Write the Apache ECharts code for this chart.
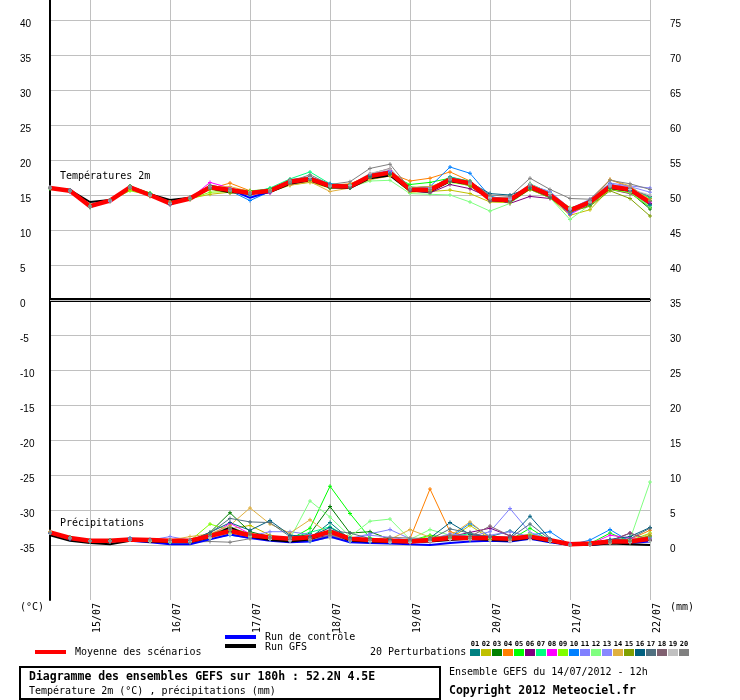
<!DOCTYPE html>
<html>
<head>
<meta charset="utf-8">
<title>Diagramme des ensembles GEFS</title>
<script src="https://cdn.jsdelivr.net/npm/echarts@6/dist/echarts.min.js"></script>
<style>
html, body { margin: 0; padding: 0; background: #fff; }
#main { width: 740px; height: 700px; }
</style>
</head>
<body>
<div id="main"></div>
<script>
// run du 14/07/2012 12h, pas de 6h jusqu'a 180h
var times = ['14/07 12h','14/07 18h','15/07 00h','15/07 06h','15/07 12h','15/07 18h','16/07 00h','16/07 06h',
  '16/07 12h','16/07 18h','17/07 00h','17/07 06h','17/07 12h','17/07 18h','18/07 00h','18/07 06h',
  '18/07 12h','18/07 18h','19/07 00h','19/07 06h','19/07 12h','19/07 18h','20/07 00h','20/07 06h',
  '20/07 12h','20/07 18h','21/07 00h','21/07 06h','21/07 12h','21/07 18h','22/07 00h'];

var leftTicks = [-35, 40];   // echelle gauche (°C)
var rightTicks = [0, 75];    // echelle droite

// temperatures 2m (°C)
var tempMean = [16.0,15.6,13.4,14.2,16.1,15.0,13.8,14.5,16.1,15.7,15.3,15.6,16.9,17.3,16.3,16.2,17.7,18.2,15.8,15.7,17.2,16.7,14.4,14.3,16.2,15.0,12.8,14.0,16.2,15.8,13.9];
var tempControl = [16.0,15.6,13.4,14.2,16.1,15.0,13.9,14.6,16.2,15.8,14.6,15.5,16.9,17.3,16.3,16.1,17.6,18.0,15.9,15.7,17.0,16.6,14.4,14.2,16.3,15.1,12.9,14.0,16.1,15.8,14.0];
var tempGfs = [16.0,15.7,14.0,14.3,16.0,15.1,14.3,14.6,16.0,15.4,15.4,15.4,16.6,17.1,16.1,16.0,17.4,17.8,15.6,15.5,17.0,16.6,14.3,14.1,16.0,14.9,13.0,13.9,16.0,15.6,13.9];
var tempPerts = [
  [16.1,15.5,13.3,14.3,16.2,14.9,13.9,14.6,16.3,15.5,15.0,15.8,17.1,17.5,16.5,16.3,17.9,18.4,16.1,15.9,17.6,16.9,14.8,14.1,16.6,15.3,12.5,14.2,16.6,15.5,13.2],
  [16.0,15.6,13.5,14.1,15.8,15.1,14.0,14.5,15.1,15.4,15.5,15.4,16.4,16.8,16.0,16.1,17.3,17.8,15.4,15.5,15.7,15.2,14.0,13.9,15.8,14.6,12.1,12.9,15.9,15.6,13.6],
  [16.0,15.6,13.3,14.2,16.3,15.2,13.7,14.6,16.4,15.9,15.4,15.9,17.0,17.4,16.0,16.1,17.5,18.0,16.0,16.2,16.9,16.5,14.2,14.0,15.9,14.8,12.6,13.5,15.9,15.4,13.0],
  [16.1,15.5,13.5,14.2,16.0,14.8,13.8,14.4,15.9,16.7,15.6,15.5,16.8,17.2,16.4,16.6,17.8,18.1,17.0,17.4,18.3,17.0,14.6,14.5,16.4,15.2,13.0,14.3,17.2,16.1,14.5],
  [15.9,15.6,13.2,14.1,16.2,15.3,13.9,14.5,16.2,15.9,15.6,15.8,16.7,17.0,16.4,16.5,17.6,17.9,16.5,16.8,17.4,16.3,14.3,14.2,16.6,15.1,12.9,14.1,16.5,15.9,14.2],
  [16.0,15.7,13.4,14.3,16.0,15.0,13.6,14.4,16.0,15.6,15.2,15.4,16.6,17.1,16.2,16.0,17.4,18.3,15.6,15.3,16.5,15.9,14.6,13.8,14.8,14.5,12.9,14.2,15.8,15.2,13.8],
  [16.0,15.6,13.4,14.2,16.2,15.1,13.8,14.6,16.2,15.8,15.3,16.0,17.3,18.3,16.6,16.4,17.9,18.5,16.2,15.8,17.5,17.0,14.7,14.4,16.5,15.4,12.4,14.0,16.4,16.0,14.6],
  [16.0,15.5,13.3,14.1,16.1,14.9,13.8,14.5,16.8,16.0,15.2,15.3,16.8,17.2,16.4,16.2,17.9,18.5,15.8,15.6,17.3,16.8,14.2,14.5,16.3,14.9,12.2,13.8,16.4,16.0,14.0],
  [16.0,15.6,13.5,14.2,15.6,15.0,13.9,14.4,15.4,15.5,15.4,15.6,16.7,17.0,16.1,16.1,17.2,17.9,15.9,15.6,16.8,16.4,14.5,14.6,16.0,15.2,13.2,13.6,15.8,15.3,13.3],
  [16.0,15.7,13.4,14.2,16.0,15.0,13.7,14.6,16.1,15.6,14.2,15.5,16.9,17.6,16.6,16.3,17.9,18.4,16.0,16.2,19.0,18.1,14.8,14.3,16.4,14.8,12.3,14.1,16.3,15.6,13.5],
  [16.1,15.5,13.4,14.3,16.1,15.1,13.8,14.5,16.0,15.7,15.4,15.6,16.9,17.3,16.3,16.2,17.6,18.2,15.9,16.0,17.1,16.6,14.6,14.2,16.0,15.3,13.0,14.4,16.7,16.3,16.0],
  [16.0,15.6,13.4,14.2,16.0,15.0,13.8,14.5,16.0,15.6,15.4,15.7,16.8,17.0,16.2,16.1,17.0,17.1,15.2,15.1,15.0,14.0,12.7,13.8,15.9,14.6,11.5,13.6,16.0,15.4,13.4],
  [16.0,15.6,13.4,14.1,16.1,15.0,13.9,14.6,16.2,15.8,15.4,15.4,16.7,17.1,16.3,16.3,17.8,18.3,15.9,16.0,17.4,16.9,14.5,14.6,16.4,15.5,13.1,14.2,16.5,16.2,15.4],
  [16.0,15.6,13.3,14.3,16.2,15.0,13.8,14.6,16.1,16.2,15.5,15.7,16.4,16.9,15.5,16.0,17.2,17.7,16.1,16.2,17.2,16.5,14.7,13.9,16.2,15.0,12.7,13.9,17.2,16.3,14.3],
  [16.0,15.6,13.5,14.2,16.0,14.9,13.8,14.4,15.8,15.3,15.2,15.5,16.7,17.1,16.2,16.0,17.5,17.9,15.8,15.5,17.0,16.3,14.3,14.0,15.8,14.6,12.6,13.4,15.6,14.5,12.0],
  [16.0,15.6,13.4,14.2,16.1,15.1,13.8,14.5,16.0,15.6,15.3,15.6,16.9,17.4,16.1,16.0,17.6,18.0,15.7,15.9,16.9,16.8,15.2,15.0,16.0,14.7,12.8,13.7,16.0,15.7,13.6],
  [16.0,15.6,13.4,14.3,16.2,15.0,13.7,14.5,16.3,15.8,15.1,15.4,16.7,17.3,16.4,16.4,17.8,18.1,15.7,15.4,17.4,16.9,14.1,14.2,16.5,15.1,12.7,14.1,16.2,15.9,14.8],
  [16.0,15.7,13.3,14.2,16.0,15.0,13.8,14.6,16.0,15.7,15.3,15.6,17.2,17.6,16.3,16.2,18.0,18.8,15.6,15.4,17.0,16.6,14.3,14.0,16.3,14.8,12.5,14.2,16.1,15.5,14.1],
  [16.0,15.6,13.4,14.2,16.1,15.0,13.8,14.5,16.2,15.7,15.3,15.6,17.0,17.5,16.3,16.4,18.1,18.7,16.0,15.9,17.3,16.7,14.6,14.4,16.6,15.2,13.0,14.0,16.3,15.8,15.0],
  [16.0,15.6,13.4,14.3,16.1,15.1,13.9,14.5,16.3,15.8,15.3,15.6,16.9,17.9,16.5,16.9,18.8,19.4,15.9,15.8,17.3,16.9,15.0,14.8,17.4,15.8,14.5,14.4,17.1,16.6,15.8]
];

// precipitations (mm / 6h), echelle de droite
var precMean = [1.8,1.0,0.6,0.6,0.8,0.7,0.6,0.6,1.3,2.0,1.4,1.1,0.9,1.1,1.9,0.9,0.7,0.6,0.5,0.7,1.0,1.0,1.0,0.9,1.2,0.7,0.1,0.2,0.5,0.5,0.9];
var precControl = [1.7,0.9,0.5,0.5,0.6,0.4,0.1,0.1,0.8,1.5,1.0,0.6,0.4,0.5,1.2,0.4,0.3,0.2,0.1,0.0,0.3,0.5,0.6,0.5,0.9,0.4,0.0,0.0,0.3,0.3,0.5];
var precGfs = [1.4,0.6,0.3,0.1,0.6,0.5,0.4,0.4,1.1,2.5,1.2,0.7,0.5,0.8,2.0,0.6,0.5,0.4,0.4,0.5,0.7,0.9,0.7,0.6,1.0,0.5,0.0,0.0,0.2,0.1,0.0];
var precPerts = [
  [1.8,0.9,0.5,0.5,0.7,0.6,0.5,0.4,1.2,1.8,1.5,1.0,0.8,1.0,3.2,0.8,0.6,0.5,0.4,0.6,0.8,1.0,1.2,2.0,1.0,0.6,0.0,0.1,0.4,0.6,0.8],
  [1.7,1.0,0.6,0.6,0.8,0.6,0.5,0.5,1.6,2.3,2.8,1.4,0.6,0.8,1.2,0.6,0.5,0.6,0.7,0.5,0.9,2.8,0.9,0.7,1.6,0.8,0.0,0.1,0.3,0.4,1.4],
  [1.8,1.1,0.6,0.7,0.9,0.6,0.7,0.6,1.8,4.6,1.9,1.2,0.9,1.6,5.5,1.7,1.9,0.8,0.4,0.6,1.1,0.8,0.7,0.8,1.4,0.5,0.0,0.2,0.7,0.4,0.6],
  [1.9,1.0,0.5,0.6,0.8,0.7,0.6,0.7,1.1,1.7,1.6,1.0,0.7,0.8,1.3,0.6,0.5,0.6,0.9,8.0,1.9,1.1,0.8,0.6,1.2,0.7,0.0,0.3,0.6,0.8,2.1],
  [1.8,1.0,0.6,0.5,0.7,0.6,0.5,0.5,1.4,2.2,1.5,1.1,0.8,2.4,8.4,4.5,1.0,0.7,0.6,1.4,1.0,0.8,0.9,0.7,2.4,0.6,0.0,0.2,1.7,0.5,1.0],
  [1.7,0.9,0.6,0.6,0.7,0.8,0.6,0.5,1.2,1.9,1.3,1.0,0.6,0.9,1.4,0.8,0.7,0.5,0.6,0.5,1.2,1.8,2.4,1.3,1.0,0.7,0.1,0.2,0.6,1.7,0.7],
  [1.8,1.0,0.5,0.6,0.8,0.6,0.5,0.6,1.5,2.4,1.2,1.2,1.0,1.8,2.6,1.0,0.6,0.5,0.5,0.9,1.2,1.6,0.9,0.8,1.3,0.6,0.0,0.1,0.5,0.4,1.1],
  [1.8,1.0,0.6,0.5,0.7,0.6,0.6,0.6,1.3,3.1,1.6,1.1,0.8,1.0,1.6,0.7,0.6,0.5,0.4,0.6,0.9,1.0,1.1,0.7,1.1,0.8,0.1,0.1,1.4,1.0,0.9],
  [1.8,1.0,0.6,0.6,0.8,0.7,0.6,0.6,3.0,2.1,1.3,1.0,0.7,1.1,2.0,0.8,0.6,0.6,0.5,1.3,1.0,1.3,0.8,0.9,1.5,0.6,0.0,0.2,0.6,0.6,1.7],
  [1.7,0.9,0.5,0.6,1.0,0.6,0.4,0.4,0.9,1.4,1.0,0.8,0.6,0.5,1.1,0.5,0.4,0.3,0.4,0.6,1.1,3.1,1.2,0.8,1.4,1.9,0.0,0.7,2.2,0.5,0.8],
  [1.8,1.0,0.6,0.6,0.9,0.7,1.2,0.7,1.5,2.2,1.3,1.9,1.9,1.5,1.3,0.9,1.6,2.2,0.9,0.7,1.3,1.2,1.9,5.2,1.8,0.8,0.0,0.1,0.5,0.7,1.2],
  [1.8,1.0,0.6,0.6,0.8,0.5,0.4,0.4,1.0,1.6,1.2,1.0,0.9,6.3,4.0,1.2,3.4,3.7,0.8,2.2,1.4,1.0,0.9,1.0,1.6,0.7,0.0,0.2,0.6,0.8,9.0],
  [1.8,1.0,0.6,0.6,0.8,0.7,0.7,0.6,1.4,2.6,1.5,1.2,1.0,1.2,1.8,1.0,1.4,1.1,0.7,0.8,1.6,1.2,1.4,1.9,1.2,0.7,0.1,0.2,0.8,0.6,1.0],
  [1.9,1.0,0.6,0.6,0.8,0.7,0.7,1.2,1.6,2.8,5.3,3.0,1.7,3.6,1.5,0.8,0.7,0.8,2.2,1.1,1.3,3.3,1.0,0.8,1.4,0.6,0.0,0.2,0.6,0.5,1.6],
  [1.8,1.0,0.6,0.6,0.8,0.6,0.6,0.5,1.5,2.5,1.6,1.1,0.8,1.0,1.8,0.8,0.7,0.6,0.5,0.6,1.0,0.9,0.8,0.9,1.3,0.6,0.0,0.1,0.5,0.6,1.3],
  [1.8,1.0,0.6,0.6,0.7,0.7,0.6,0.6,1.8,3.2,2.1,3.5,1.4,1.2,2.5,1.0,0.8,0.8,0.7,1.0,3.2,1.5,1.2,1.1,4.1,0.9,0.0,0.2,0.8,1.2,2.5],
  [1.8,1.0,0.6,0.6,0.8,0.7,0.6,0.6,1.7,3.8,3.3,3.2,1.2,1.0,2.1,1.7,0.9,0.7,0.6,0.8,2.3,1.7,1.1,1.0,3.0,0.8,0.0,0.2,0.7,0.9,2.4],
  [1.8,1.0,0.6,0.6,0.8,0.7,0.6,0.5,1.3,2.3,1.5,1.0,0.8,1.1,1.6,0.8,0.6,0.6,0.6,0.9,1.4,1.2,2.7,1.3,1.1,0.7,0.0,0.1,0.5,1.7,0.7],
  [1.8,1.0,0.6,0.6,0.7,0.6,0.5,0.5,1.0,1.5,1.0,0.8,0.6,0.7,1.0,0.6,0.5,0.4,0.4,0.5,0.8,0.8,0.6,0.5,0.8,0.5,0.0,0.0,0.3,0.4,0.5],
  [1.8,1.0,0.6,0.6,0.8,0.7,0.6,0.4,0.5,0.4,0.9,1.0,1.0,0.6,1.4,0.7,0.8,1.1,1.0,0.9,1.2,1.0,1.3,0.9,1.2,0.6,0.0,0.1,0.4,0.5,0.8]
];

var pertNames = ['01','02','03','04','05','06','07','08','09','10','11','12','13','14','15','16','17','18','19','20'];
var pertColors = ['#008080','#c0c000','#008000','#ff8000','#00ff00','#800080','#00ff80','#ff00ff','#80ff00','#0080ff',
  '#8080ff','#80ff80','#8888ff','#e0b040','#80a000','#006080','#507080','#806070','#c0c0c0','#808080'];

var myChart = echarts.init(document.getElementById('main'));

var mono = 'DejaVu Sans Mono';
var cross = 'path://M1.5,0H2.5V4H1.5ZM0,1.5H4V2.5H0Z';
// 7 px par degre, 0°C au milieu du cadre de 600 px
var half = 300 / 7;

function isDay(idx, val) {
  return val.slice(6) === '00h';
}

function makeLine(name, data, color, width, yIndex, marks) {
  return {
    name: name,
    type: 'line',
    xAxisIndex: 0,
    yAxisIndex: yIndex,
    data: data,
    symbol: marks ? cross : 'none',
    symbolSize: 4,
    showSymbol: marks,
    lineStyle: { color: color, width: width },
    itemStyle: { color: color },
    silent: true
  };
}

var series = [];
for (var k = 0; k < 20; k++) {
  series.push(makeLine('T' + pertNames[k], tempPerts[k], pertColors[k], 1, 0, true));
  series.push(makeLine('P' + pertNames[k], precPerts[k], pertColors[k], 1, 1, true));
}
// double trait noir a 0°C
series[0].markLine = {
  silent: true,
  symbol: 'none',
  label: { show: false },
  data: [
    { yAxis: 0, lineStyle: { color: '#000', width: 4, type: 'solid' } },
    { yAxis: 0, lineStyle: { color: '#c0c0c0', width: 1, type: 'solid' } }
  ]
};
series.push(makeLine('Run de contrôle', tempControl, '#0000ff', 2, 0, false));
series.push(makeLine('Run de contrôle', precControl, '#0000ff', 2, 1, false));
series.push(makeLine('Run GFS', tempGfs, '#000000', 2, 0, false));
series.push(makeLine('Run GFS', precGfs, '#000000', 2, 1, false));
series.push(makeLine('Moyenne', tempMean, '#ff0000', 4.5, 0, false));
series.push(makeLine('Moyenne', precMean, '#ff0000', 4.5, 1, false));

function txt(x, y, text, size, bold, align) {
  return {
    type: 'text', x: x, y: y, silent: true,
    style: {
      text: text, fill: '#000', align: align || 'left', verticalAlign: 'middle',
      font: (bold ? 'bold ' : '') + size + 'px "' + mono + '"'
    }
  };
}
function seg(x1, x2, y, color) {
  return { type: 'line', silent: true, shape: { x1: x1, y1: y, x2: x2, y2: y },
    style: { stroke: color, lineWidth: 4 } };
}

var graphics = [
  txt(60, 176, 'Températures 2m', 10),
  txt(60, 523, 'Précipitations', 10),
  txt(20, 607, '(°C)', 10),
  txt(670, 607, '(mm)', 10),
  seg(35, 66, 652, '#ff0000'),
  txt(75, 652, 'Moyenne des scénarios', 10),
  seg(225, 256, 637, '#0000ff'),
  txt(265, 637, 'Run de contrôle', 10),
  seg(225, 256, 646, '#000000'),
  txt(265, 647, 'Run GFS', 10),
  txt(370, 652, '20 Perturbations', 10),
  { type: 'rect', silent: true, shape: { x: 20, y: 667, width: 420, height: 32 },
    style: { fill: 'none', stroke: '#000', lineWidth: 2 } },
  txt(29, 677, 'Diagramme des ensembles GEFS sur 180h : 52.2N 4.5E', 11.5, true),
  txt(29, 691, 'Température 2m (°C) , précipitations (mm)', 10),
  txt(449, 672, 'Ensemble GEFS du 14/07/2012 - 12h', 10),
  txt(449, 691, 'Copyright 2012 Meteociel.fr', 11.5, true)
];
for (var j = 0; j < 20; j++) {
  graphics.push({ type: 'rect', silent: true, shape: { x: 470 + j * 11, y: 649, width: 10, height: 7 },
    style: { fill: pertColors[j] } });
  graphics.push({ type: 'text', silent: true, x: 475 + j * 11, y: 644,
    style: { text: pertNames[j], fill: '#000', align: 'center', verticalAlign: 'middle',
      font: 'bold 7px "' + mono + '"' } });
}

var option = {
  animation: false,
  backgroundColor: '#fff',
  grid: [
    { left: 50, top: 0, width: 600, height: 600, containLabel: false, outerBoundsMode: 'none' },
    { left: 50, top: 20, width: 600, height: 525, containLabel: false, outerBoundsMode: 'none' }
  ],
  xAxis: [
    {
      gridIndex: 0,
      type: 'category',
      data: times,
      boundaryGap: false,
      axisLine: { show: true, lineStyle: { color: '#000', width: 2 } },
      axisTick: { show: false },
      axisLabel: {
        interval: isDay,
        rotate: 90,
        margin: 3,
        verticalAlign: 'top',
        lineHeight: 14,
        color: '#000',
        fontFamily: mono,
        fontSize: 10,
        formatter: function (v) { return v.slice(0, 5); }
      },
      splitLine: { show: true, interval: isDay, lineStyle: { color: '#c0c0c0', width: 1 } }
    },
    { gridIndex: 1, type: 'category', data: times, boundaryGap: false, show: false }
  ],
  yAxis: [
    {
      gridIndex: 0, type: 'value', position: 'left', min: -half, max: half,
      axisLine: { show: true, lineStyle: { color: '#000', width: 2 } },
      axisTick: { show: false }, axisLabel: { show: false }, splitLine: { show: false }
    },
    {
      gridIndex: 0, type: 'value', position: 'right', min: 35 - half, max: 35 + half, show: false
    },
    {
      gridIndex: 1, type: 'value', position: 'left',
      min: leftTicks[0], max: leftTicks[1], interval: 5,
      axisLine: { show: false }, axisTick: { show: false },
      axisLabel: { margin: 30, align: 'left', verticalAlign: 'top', lineHeight: 8,
        color: '#000', fontFamily: 'Liberation Sans', fontSize: 10 },
      splitLine: { show: true, lineStyle: { color: '#c0c0c0', width: 1 } }
    },
    {
      gridIndex: 1, type: 'value', position: 'right',
      min: rightTicks[0], max: rightTicks[1], interval: 5,
      axisLine: { show: false }, axisTick: { show: false },
      axisLabel: { margin: 20, verticalAlign: 'top', lineHeight: 8,
        color: '#000', fontFamily: 'Liberation Sans', fontSize: 10 },
      splitLine: { show: false }
    }
  ],
  graphic: graphics,
  series: series
};

myChart.setOption(option);
</script>
</body>
</html>
